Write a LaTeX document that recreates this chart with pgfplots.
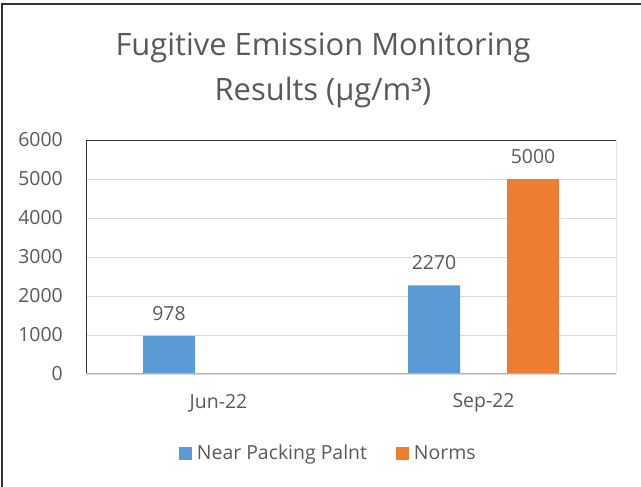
\documentclass[border=0pt]{standalone}
\usepackage{fontspec}
\setmainfont{Open Sans}
\usepackage{pgfplots}
\pgfplotsset{compat=1.18}
\definecolor{cblue}{HTML}{5B9BD5}
\definecolor{corange}{HTML}{ED7D31}
\definecolor{txt}{HTML}{595959}
\definecolor{gridc}{HTML}{D9D9D9}
\begin{document}
\begin{tikzpicture}
\useasboundingbox (0bp,0bp) rectangle (641bp,487bp);
\draw[line width=1.6bp, black!80] (2bp,0bp) -- (2bp,483bp) -- (641bp,483bp);
\node[text=txt, font=\fontsize{31}{36}\selectfont] at (323bp,439bp) {Fugitive Emission Monitoring};
\node[text=txt, font=\fontsize{31}{36}\selectfont] at (323bp,395bp) {Results (µg/m³)};
\begin{axis}[
  at={(86bp,113bp)}, anchor=south west,
  width=530bp, height=234bp, scale only axis,
  xmin=-0.5, xmax=1.5, ymin=0, ymax=6000,
  ytick={0,1000,...,6000},
  xtick={0,1}, xticklabels={Jun-22,Sep-22},
  major tick length=0pt,
  axis line style={draw=none},
  ymajorgrids, grid style={draw=gridc, line width=0.8bp},
  /pgf/number format/assume math mode=true,
  scaled y ticks=false,
  yticklabel={\pgfmathprintnumber[fixed,1000 sep={}]{\tick}},
  yticklabel style={anchor=east, inner sep=0pt, xshift=-23bp, text=txt, font=\fontsize{19.5}{23}\selectfont},
  xticklabel style={anchor=center, inner sep=0pt, yshift=-29bp, text=txt, font=\fontsize{19.5}{23}\selectfont},
  ybar, bar width=52bp,
  nodes near coords,
  every node near coord/.append style={text=txt, font=\fontsize{19.5}{23}\selectfont, yshift=12bp},
  nodes near coords style={/pgf/number format/.cd, fixed, 1000 sep={}},
  legend style={at={(0.46,-0.338)}, anchor=center, draw=none, fill=none,
    legend columns=2, font=\fontsize{19.5}{23}\selectfont, text=txt,
    nodes={inner xsep=5bp},
    /tikz/every even column/.append style={column sep=24bp}},
  legend image code/.code={\fill[#1] (0bp,-6.5bp) rectangle (13bp,6.5bp);},
]
\addplot[fill=cblue, draw=none, bar shift=-49.5bp] coordinates {(0,978) (1,2270)};
\addlegendentry{Near Packing Palnt}
\addplot[fill=corange, draw=none, bar shift=49.5bp] coordinates {(1,5000)};
\addlegendentry{Norms}
\draw[black!80, line width=1bp] (rel axis cs:0,0) -- (rel axis cs:0,1) -- (rel axis cs:1,1) -- (rel axis cs:1,0);
\draw[black!30, line width=1.2bp] (rel axis cs:0,0) -- (rel axis cs:1,0);
\end{axis}
\end{tikzpicture}
\end{document}
